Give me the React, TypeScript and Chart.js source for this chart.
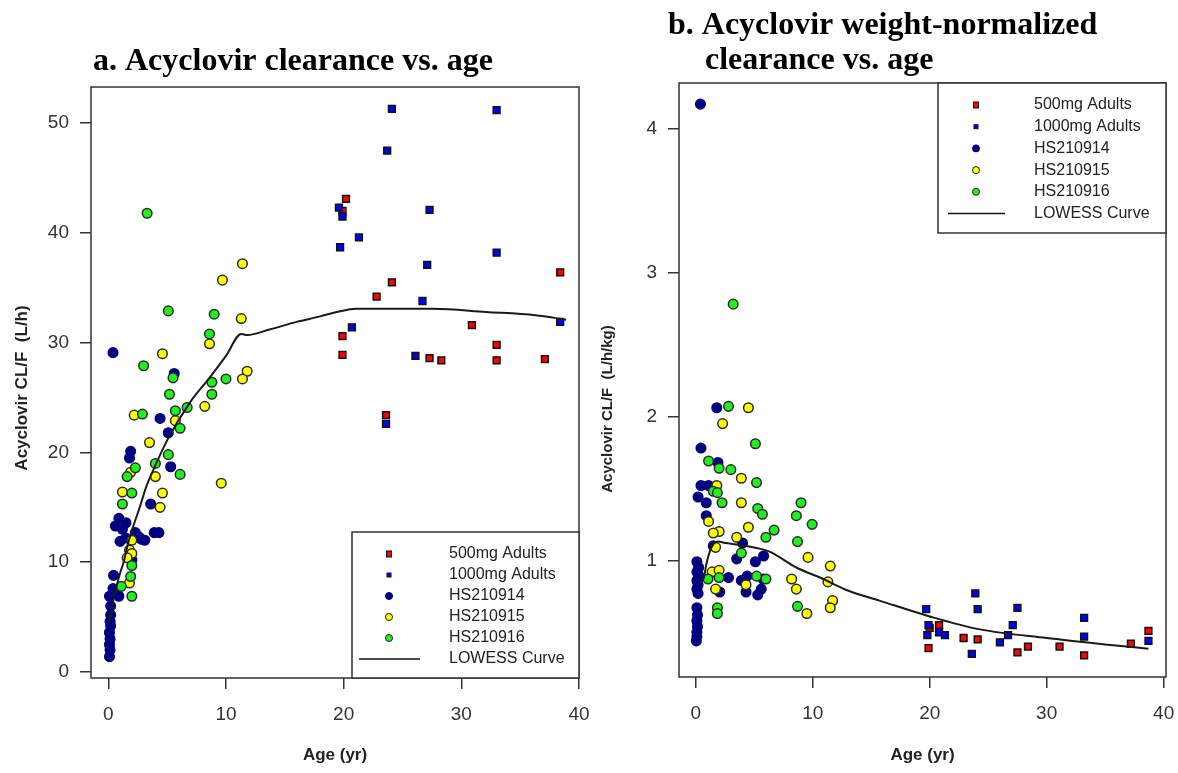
import React, { useEffect, useRef } from "react";
import { Chart, registerables } from "chart.js";

Chart.register(...registerables);

type Pt = [number, number];

// ---------- Panel a: clearance (L/h) vs age (yr) ----------
const aAdult500: Pt[] = [
  [20.2, 43.1], [19.9, 42.0], [38.4, 36.4], [24.1, 35.5], [22.8, 34.2], [30.9, 31.6], [19.9, 30.6],
  [33.0, 29.8], [19.9, 28.9], [27.3, 28.6], [28.3, 28.4], [33.0, 28.4], [37.1, 28.5], [23.6, 23.4],
];
const aAdult1000: Pt[] = [
  [24.1, 51.3], [33.0, 51.2], [23.7, 47.5], [19.6, 42.3], [19.9, 41.5], [27.3, 42.1], [21.3, 39.6],
  [19.7, 38.7], [33.0, 38.2], [27.1, 37.1], [26.7, 33.8], [38.4, 31.9], [20.7, 31.4], [26.1, 28.8],
  [23.6, 22.6],
];
const aHS914: Pt[] = [
  [0.4, 29.1], [5.6, 27.2], [4.4, 23.1], [5.1, 21.8], [1.9, 20.1], [1.8, 19.5], [5.3, 18.7],
  [3.6, 15.3], [0.9, 14.0], [1.5, 13.6], [0.6, 13.3], [1.2, 13.0], [2.3, 12.7], [3.9, 12.7],
  [4.3, 12.7], [2.6, 12.3], [1.5, 12.2], [2.8, 12.1], [3.1, 12.0], [1.0, 11.9], [2.0, 10.2],
  [0.45, 8.8], [0.4, 7.6], [0.1, 6.9], [0.9, 6.9], [0.2, 6.0], [0.2, 5.2], [0.15, 4.6], [0.2, 4.2],
  [0.1, 3.6], [0.15, 3.0], [0.1, 2.5], [0.15, 2.0], [0.1, 1.4],
];
const aHS915: Pt[] = [
  [11.4, 37.2], [9.7, 35.7], [11.3, 32.2], [8.6, 29.9], [4.6, 29.0], [11.8, 27.4], [11.4, 26.7],
  [8.2, 24.2], [2.2, 23.4], [5.7, 22.9], [3.5, 20.9], [1.9, 18.2], [4.0, 17.8], [9.6, 17.2],
  [1.2, 16.4], [4.6, 16.3], [4.4, 15.0], [2.0, 12.0], [1.8, 11.1], [2.0, 10.8], [1.6, 10.4], [1.8, 8.1],
];
const aHS916: Pt[] = [
  [3.3, 41.8], [5.1, 32.9], [9.0, 32.6], [8.6, 30.8], [3.0, 27.9], [5.5, 26.8], [10.0, 26.7],
  [8.8, 26.4], [8.8, 25.3], [5.2, 25.3], [6.7, 24.1], [5.7, 23.8], [2.9, 23.5], [6.1, 22.2],
  [5.1, 19.8], [4.0, 19.0], [2.3, 18.6], [6.1, 18.0], [1.6, 17.8], [2.0, 16.3], [1.2, 15.3],
  [2.0, 9.7], [1.9, 8.7], [1.1, 7.8], [2.0, 6.9],
];
const aLowess: Pt[] = [
  [0.1, 4.5], [0.3, 5.8], [0.7, 7.8], [1.0, 9.0], [1.3, 10.0], [1.7, 11.8], [2.1, 13.2], [2.7, 15.1],
  [3.2, 16.8], [3.7, 18.1], [5.0, 21.1], [6.9, 24.5], [8.6, 26.8], [10.0, 28.8], [11.3, 30.8],
  [11.8, 30.7], [13.7, 31.2], [16.0, 31.9], [18.0, 32.4], [19.4, 32.8], [21.1, 33.1], [27.6, 33.1],
  [32.1, 32.8], [36.3, 32.5], [38.9, 32.1],
];

// ---------- Panel b: weight-normalized clearance (L/h/kg) vs age ----------
const bAdult500: Pt[] = [
  [20.8, 0.55], [20.0, 0.53], [22.9, 0.46], [24.1, 0.45], [38.7, 0.51], [37.2, 0.42], [31.1, 0.40],
  [28.4, 0.40], [27.5, 0.36], [19.9, 0.39], [33.2, 0.34],
];
const bAdult1000: Pt[] = [
  [23.9, 0.77], [19.7, 0.66], [24.1, 0.66], [27.5, 0.67], [33.2, 0.60], [19.9, 0.55], [27.1, 0.55],
  [20.8, 0.50], [21.3, 0.48], [19.8, 0.48], [26.7, 0.48], [26.0, 0.43], [33.2, 0.47], [38.7, 0.44],
  [23.6, 0.35],
];
const bHS914: Pt[] = [
  [0.4, 4.17], [1.8, 2.06], [0.45, 1.78], [1.9, 1.68], [0.45, 1.52], [1.1, 1.52], [0.2, 1.44],
  [0.9, 1.40], [0.9, 1.31], [4.0, 1.12], [1.5, 1.10], [3.5, 1.01], [5.8, 1.03], [5.1, 0.99],
  [0.1, 0.99], [0.25, 0.95], [0.1, 0.92], [0.3, 0.89], [0.1, 0.86], [0.2, 0.83], [0.1, 0.80],
  [0.2, 0.77], [2.8, 0.88], [3.9, 0.86], [4.4, 0.89], [5.75, 0.87], [2.05, 0.78], [4.3, 0.78],
  [5.3, 0.76], [5.6, 0.80], [0.1, 0.67], [0.15, 0.62], [0.1, 0.58], [0.15, 0.54], [0.1, 0.50],
  [0.1, 0.47], [0.05, 0.44],
];
const bHS915: Pt[] = [
  [4.5, 2.06], [2.3, 1.95], [3.9, 1.57], [1.8, 1.52], [3.9, 1.40], [1.1, 1.27], [4.5, 1.23],
  [2.0, 1.20], [1.5, 1.19], [3.5, 1.16], [1.7, 1.09], [9.6, 1.02], [11.5, 0.96], [1.4, 0.92],
  [2.0, 0.93], [8.2, 0.87], [11.3, 0.85], [8.6, 0.80], [4.3, 0.83], [1.7, 0.80], [11.7, 0.72],
  [11.5, 0.67], [9.5, 0.63],
];
const bHS916: Pt[] = [
  [3.2, 2.78], [2.8, 2.07], [5.1, 1.81], [1.1, 1.69], [2.0, 1.64], [3.0, 1.63], [5.2, 1.54],
  [1.5, 1.48], [1.85, 1.47], [2.25, 1.40], [9.0, 1.40], [5.3, 1.36], [5.7, 1.32], [8.6, 1.31],
  [9.95, 1.25], [6.7, 1.21], [6.0, 1.16], [8.7, 1.13], [3.9, 1.05], [1.05, 0.87], [2.0, 0.88],
  [5.2, 0.89], [6.0, 0.87], [8.7, 0.68], [1.85, 0.67], [1.85, 0.63],
];
const bLowess: Pt[] = [
  [0.3, 0.84], [0.7, 0.88], [0.9, 0.97], [1.35, 1.09], [1.9, 1.13], [2.6, 1.12], [4.3, 1.10],
  [6.3, 1.06], [8.6, 0.95], [10.9, 0.87], [13.0, 0.79], [15.7, 0.72], [20.0, 0.61], [24.3, 0.52],
  [30.0, 0.46], [35.7, 0.41], [38.7, 0.385],
];

const legendLabels = ["500mg Adults", "1000mg Adults", "HS210914", "HS210915", "HS210916", "LOWESS Curve"];
const xTicks = [0, 10, 20, 30, 40];
const aYTicks = [0, 10, 20, 30, 40, 50];
const bYTicks = [1, 2, 3, 4];

const RED = "#ff0000";
const BLUE = "#0000ff";
const NAVY = "#000080";
const YELLOW = "#ffff00";
const GREEN = "#22ee22";
const INK = "#333333";

interface LegendGeom {
  w: number; h: number; anchorTop: boolean;
  markerDx: number; textDx: number; firstDy: number; step: number; lineX0: number; lineX1: number;
}
interface PanelSpec {
  left: number; width: number; height: number;
  yAxisWidth: number; xAxisHeight: number; padTop: number; padRight: number;
  xMin: number; xMax: number; yMin: number; yMax: number; yTicks: number[];
  groups: Pt[][]; lowess: Pt[];
  titles: { text: string; x: number; y: number }[];
  yTitle: { text: string; x: number; y: number; size: number };
  legend: LegendGeom;
}

const toXY = (a: Pt[]) => a.map(([x, y]) => ({ x, y }));

function makePlugin(spec: PanelSpec) {
  return {
    id: "panelDecor",
    afterDraw(chart: any) {
      const ctx: CanvasRenderingContext2D = chart.ctx;
      const area = chart.chartArea;
      ctx.save();
      // frame
      ctx.strokeStyle = INK;
      ctx.lineWidth = 1.5;
      ctx.strokeRect(area.left, area.top, area.right - area.left, area.bottom - area.top);
      // titles
      ctx.fillStyle = "#000";
      ctx.font = "bold 32px 'Liberation Serif', 'Times New Roman', serif";
      ctx.textAlign = "left";
      ctx.textBaseline = "alphabetic";
      for (const t of spec.titles) ctx.fillText(t.text, t.x, t.y);
      // y title
      ctx.save();
      ctx.translate(spec.yTitle.x, spec.yTitle.y);
      ctx.rotate(-Math.PI / 2);
      ctx.fillStyle = "#222";
      ctx.font = `bold ${spec.yTitle.size}px 'Liberation Sans', Arial, sans-serif`;
      ctx.textAlign = "center";
      ctx.textBaseline = "middle";
      ctx.fillText(spec.yTitle.text, 0, 0);
      ctx.restore();
      // legend
      const L = spec.legend;
      const bx = area.right - L.w;
      const by = L.anchorTop ? area.top : area.bottom - L.h;
      ctx.fillStyle = "#fff";
      ctx.fillRect(bx, by, L.w, L.h);
      ctx.strokeStyle = INK;
      ctx.lineWidth = 1.5;
      ctx.strokeRect(bx, by, L.w, L.h);
      ctx.font = "16px 'Liberation Sans', Arial, sans-serif";
      ctx.textBaseline = "middle";
      ctx.textAlign = "left";
      legendLabels.forEach((lab, i) => {
        const y = by + L.firstDy + i * L.step;
        const mx = bx + L.markerDx;
        ctx.lineWidth = 1;
        ctx.strokeStyle = "#111";
        if (i === 0) {
          ctx.fillStyle = RED;
          ctx.fillRect(mx - 2.5, y - 3, 5, 6);
          ctx.strokeRect(mx - 2.5, y - 3, 5, 6);
        } else if (i === 1) {
          ctx.fillStyle = BLUE;
          ctx.fillRect(mx - 2, y - 2, 4, 4);
          ctx.strokeRect(mx - 2, y - 2, 4, 4);
        } else if (i <= 4) {
          ctx.beginPath();
          ctx.arc(mx, y, 3.5, 0, Math.PI * 2);
          ctx.fillStyle = i === 2 ? NAVY : i === 3 ? YELLOW : GREEN;
          ctx.fill();
          ctx.strokeStyle = i === 2 ? NAVY : "#222";
          ctx.stroke();
        } else {
          ctx.beginPath();
          ctx.moveTo(bx + L.lineX0, y);
          ctx.lineTo(bx + L.lineX1, y);
          ctx.strokeStyle = "#111";
          ctx.lineWidth = 1.5;
          ctx.stroke();
        }
        ctx.fillStyle = "#222";
        ctx.fillText(lab, bx + L.textDx, y);
      });
      ctx.restore();
    },
  };
}

function makeConfig(spec: PanelSpec): any {
  const [g500, g1000, g914, g915, g916] = spec.groups;
  const sq = (data: Pt[], color: string, order: number, label: string) => ({
    label, data: toXY(data), pointStyle: "rect", pointRadius: 4.8, backgroundColor: color,
    borderColor: "#111", borderWidth: 1.5, order, showLine: false,
  });
  const circ = (data: Pt[], color: string, border: string, order: number, label: string) => ({
    label, data: toXY(data), pointStyle: "circle", pointRadius: 4.8, backgroundColor: color,
    borderColor: border, borderWidth: 1.5, order, showLine: false,
  });
  const tickFont = { family: "'Liberation Sans', Arial, sans-serif", size: 19 };
  const grid = { display: true, drawOnChartArea: false, drawTicks: true, tickLength: 11, color: INK, lineWidth: 1.5 };
  return {
    type: "scatter",
    data: {
      datasets: [
        {
          label: legendLabels[5], data: toXY(spec.lowess), showLine: true, pointRadius: 0,
          borderColor: "#1a1a1a", borderWidth: 2, cubicInterpolationMode: "monotone", order: 0,
          backgroundColor: "#1a1a1a",
        },
        circ(g914, NAVY, NAVY, 5, legendLabels[2]),
        circ(g915, YELLOW, "#2a2a2a", 4, legendLabels[3]),
        circ(g916, GREEN, "#2a2a2a", 3, legendLabels[4]),
        sq(g500, RED, 7, legendLabels[0]),
        sq(g1000, BLUE, 6, legendLabels[1]),
      ],
    },
    options: {
      animation: false,
      responsive: false,
      events: [],
      devicePixelRatio: 1,
      layout: { padding: { left: 0, top: spec.padTop, right: spec.padRight, bottom: 0 } },
      plugins: { legend: { display: false }, title: { display: false }, tooltip: { enabled: false } },
      scales: {
        x: {
          type: "linear", min: spec.xMin, max: spec.xMax,
          afterBuildTicks: (s: any) => { s.ticks = xTicks.map((v) => ({ value: v })); },
          afterFit: (s: any) => { s.height = spec.xAxisHeight; s.paddingLeft = 0; s.paddingRight = 0; },
          grid, border: { display: false },
          ticks: { font: tickFont, color: INK, padding: 14, maxRotation: 0, autoSkip: false },
          title: {
            display: true, text: "Age (yr)", color: "#222",
            font: { family: "'Liberation Sans', Arial, sans-serif", size: 17, weight: "bold" },
            padding: { top: 0, bottom: 7 },
          },
        },
        y: {
          type: "linear", min: spec.yMin, max: spec.yMax,
          afterBuildTicks: (s: any) => { s.ticks = spec.yTicks.map((v) => ({ value: v })); },
          afterFit: (s: any) => { s.width = spec.yAxisWidth; s.paddingTop = 0; s.paddingBottom = 0; },
          grid, border: { display: false },
          ticks: { font: tickFont, color: INK, padding: 11, autoSkip: false },
        },
      },
    },
    plugins: [makePlugin(spec)],
  };
}

const specA: PanelSpec = {
  left: 0, width: 600, height: 773, yAxisWidth: 91, xAxisHeight: 95, padTop: 87, padRight: 21,
  xMin: -1.47, xMax: 40, yMin: -0.55, yMax: 53.3, yTicks: aYTicks,
  groups: [aAdult500, aAdult1000, aHS914, aHS915, aHS916], lowess: aLowess,
  titles: [{ text: "a. Acyclovir clearance vs. age", x: 93, y: 70 }],
  yTitle: { text: "Acyclovir CL/F  (L/h)", x: 22, y: 388, size: 17 },
  legend: { w: 227, h: 146, anchorTop: false, markerDx: 37, textDx: 97, firstDy: 22, step: 21, lineX0: 7, lineX1: 68 },
};

const specB: PanelSpec = {
  left: 600, width: 578, height: 773, yAxisWidth: 79, xAxisHeight: 96, padTop: 83, padRight: 12,
  xMin: -1.43, xMax: 40.2, yMin: 0.189, yMax: 4.317, yTicks: bYTicks,
  groups: [bAdult500, bAdult1000, bHS914, bHS915, bHS916], lowess: bLowess,
  titles: [
    { text: "b. Acyclovir weight-normalized", x: 68, y: 34 },
    { text: "clearance vs. age", x: 105, y: 69 },
  ],
  yTitle: { text: "Acyclovir CL/F  (L/h/kg)", x: 8, y: 409, size: 15 },
  legend: { w: 228, h: 150, anchorTop: true, markerDx: 38, textDx: 96, firstDy: 22, step: 21.7, lineX0: 10, lineX1: 67 },
};

function Panel({ spec }: { spec: PanelSpec }) {
  const ref = useRef<HTMLCanvasElement | null>(null);
  useEffect(() => {
    if (!ref.current) return;
    const chart = new Chart(ref.current, makeConfig(spec));
    return () => chart.destroy();
  }, [spec]);
  return (
    <canvas
      ref={ref}
      width={spec.width}
      height={spec.height}
      style={{ position: "absolute", left: spec.left, top: 0, width: spec.width, height: spec.height }}
    />
  );
}

export default function App() {
  return (
    <div style={{ position: "absolute", left: 0, top: 0, width: 1178, height: 773, background: "#fff" }}>
      <Panel spec={specA} />
      <Panel spec={specB} />
    </div>
  );
}
